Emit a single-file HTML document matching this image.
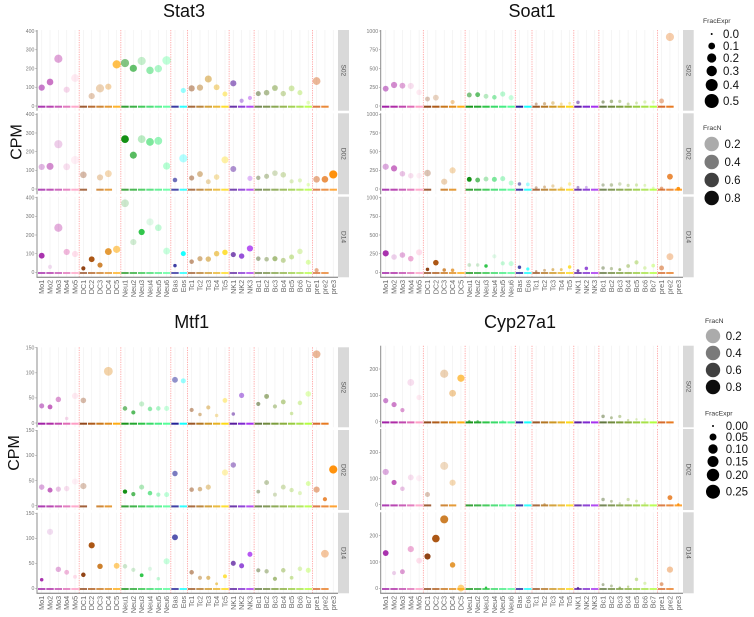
<!DOCTYPE html>
<html lang="en">
<head>
<meta charset="utf-8">
<title>Gene expression dot plots</title>
<style>
html,body{margin:0;padding:0;background:#fff;}
svg{display:block;font-family:"Liberation Sans",sans-serif;filter:blur(0.3px);}
</style>
</head>
<body>
<svg id="chart" xmlns="http://www.w3.org/2000/svg" width="754" height="617" viewBox="0 0 754 617">
  <rect width="754" height="617" fill="#fff"/>
  <text x="184" y="17" font-size="18" text-anchor="middle" fill="#111">Stat3</text>
  <text x="532" y="17" font-size="18" text-anchor="middle" fill="#111">Soat1</text>
  <text x="191.7" y="328" font-size="18" text-anchor="middle" fill="#111">Mtf1</text>
  <text x="520" y="328" font-size="18" text-anchor="middle" fill="#111">Cyp27a1</text>
  <text transform="translate(21.5,142) rotate(-90)" font-size="16" text-anchor="middle" fill="#111">CPM</text>
  <text transform="translate(19,453) rotate(-90)" font-size="16" text-anchor="middle" fill="#111">CPM</text>

  <g font-size="11.5" fill="#111">
    <text x="703" y="23" font-size="6.8" fill="#333">FracExpr</text>
    <circle cx="711.7" cy="34" r="1" fill="#000"/><text x="723" y="38">0.0</text>
    <circle cx="711.7" cy="46" r="3.4" fill="#000"/><text x="723" y="50">0.1</text>
    <circle cx="711.7" cy="58" r="4.6" fill="#000"/><text x="723" y="62">0.2</text>
    <circle cx="711.7" cy="71" r="5.2" fill="#000"/><text x="723" y="75">0.3</text>
    <circle cx="711.7" cy="85" r="6" fill="#000"/><text x="723" y="89">0.4</text>
    <circle cx="711.7" cy="101" r="7" fill="#000"/><text x="723" y="105">0.5</text>
  </g>
  <g font-size="11.5" fill="#111">
    <text x="703" y="130" font-size="6.8" fill="#333">FracN</text>
    <circle cx="711.7" cy="144" r="7.2" fill="#000" fill-opacity=".33"/><text x="724.5" y="148.2">0.2</text>
    <circle cx="711.7" cy="162" r="7.2" fill="#000" fill-opacity=".52"/><text x="724.5" y="166.2">0.4</text>
    <circle cx="711.7" cy="180" r="7.2" fill="#000" fill-opacity=".75"/><text x="724.5" y="184.2">0.6</text>
    <circle cx="711.7" cy="198" r="7.2" fill="#000" fill-opacity=".95"/><text x="724.5" y="202.2">0.8</text>
  </g>
  <g font-size="11.5" fill="#111">
    <text x="705" y="323" font-size="6.8" fill="#333">FracN</text>
    <circle cx="713" cy="336" r="7.2" fill="#000" fill-opacity=".33"/><text x="725.7" y="340.2">0.2</text>
    <circle cx="713" cy="353" r="7.2" fill="#000" fill-opacity=".52"/><text x="725.7" y="357.2">0.4</text>
    <circle cx="713" cy="370" r="7.2" fill="#000" fill-opacity=".75"/><text x="725.7" y="374.2">0.6</text>
    <circle cx="713" cy="387" r="7.2" fill="#000" fill-opacity=".95"/><text x="725.7" y="391.2">0.8</text>
  </g>
  <g font-size="11.5" fill="#111">
    <text x="705" y="415.5" font-size="6.8" fill="#333">FracExpr</text>
    <circle cx="713" cy="426" r="1" fill="#000"/><text x="725.7" y="430">0.00</text>
    <circle cx="713" cy="437" r="3.5" fill="#000"/><text x="725.7" y="441">0.05</text>
    <circle cx="713" cy="449" r="4.7" fill="#000"/><text x="725.7" y="453">0.10</text>
    <circle cx="713" cy="461.5" r="5.5" fill="#000"/><text x="725.7" y="465.5">0.15</text>
    <circle cx="713" cy="475" r="6.2" fill="#000"/><text x="725.7" y="479">0.20</text>
    <circle cx="713" cy="491.7" r="7" fill="#000"/><text x="725.7" y="495.7">0.25</text>
  </g>
</svg>
<script>
const _ = null;
const categories = ['Mo1','Mo2','Mo3','Mo4','Mo5','DC1','DC2','DC3','DC4','DC5','Neu1','Neu2','Neu3','Neu4','Neu5','Neu6','Bas','Eos','Tc1','Tc2','Tc3','Tc4','Tc5','NK1','NK2','NK3','Bc1','Bc2','Bc3','Bc4','Bc5','Bc6','Bc7','pre1','pre2','pre3'];
const groupBoundaries = ['Mo5','DC5','Neu6','Eos','Tc5','NK3','Bc7'];
const conditions = ['S02','D02','D14'];
const missingS02 = ['pre3'];
const missingD02 = ['DC2','DC5'];
const missingD14 = ['pre3'];
const stat3Ticks = [0,100,200,300,400];
const soat1Ticks = [0,250,500,750,1000];
const mtf1Ticks = [0,50,100,150];
const cypTicks = [0,100,200];

/* CPM per cell type, FracExpr (%) and FracN (%) per cell type */
const stat3S02Cpm  = [98,128,252,87,149, _,53,94,103,222, 229,201,240,190,199,243, _, 83, 94,98,144,100,64, 121,28,43, 66,71,96,66,94,71,18, 133,_,_];
const stat3S02Expr = [21,25,42,21,37, _,21,42,21,42, 42,31,42,33,33,47, _, 13, 21,21,29,18,12, 21,7,7, 12,16,18,15,18,12,5, 37,_,_];
const stat3S02N    = [55,60,45,25,20, _,30,30,35,70, 50,65,25,50,40,35, _, 40, 50,45,50,45,45, 55,40,40, 55,50,50,40,40,40,30, 45,_,_];
const stat3D02Cpm  = [118,121,240,119,155, 76,_,62,82,_, 267,181,267,252,258,123, 48, 164, 59,80,39,64,156, 107,_,57, 60,68,85,76,41,46,23, 52,52,78];
const stat3D02Expr = [21,29,42,27,42, 25,_,21,27,_, 37,29,37,37,37,31, 9, 42, 13,18,11,16,29, 19,_,13, 8,12,16,16,7,7,4, 25,25,42];
const stat3D02N    = [30,50,25,20,15, 35,_,30,30,_, 95,70,30,60,50,40, 60, 30, 50,45,35,35,35, 45,_,30, 45,40,30,35,30,30,30, 50,75,95];
const stat3D14Cpm  = [89,29,239,109,98, 21,70,39,111,123, 370,162,216,270,239,114, 36, 100, 57,73,71,100,107, 95,87,128, 73,70,73,64,82,112,54, 11,_,_];
const stat3D14Expr = [18,7,42,21,21, 7,18,13,27,31, 37,21,21,31,25,27, 4, 12, 9,13,15,15,15, 13,15,21, 9,9,13,12,12,15,12, 7,_,_];
const stat3D14N    = [85,15,40,45,30, 95,95,80,80,55, 20,20,90,15,30,30, 80, 90, 55,50,55,60,75, 70,75,75, 50,45,60,45,45,35,40, 50,_,_];

const soat1S02Cpm  = [231,280,271,267,182, 93,111,_,53,_, 147,151,129,116,160,111, _, _, 27,31,40,27,36, 49,_,_, 53,62,62,27,40,53,53, 67,920,_];
const soat1S02Expr = [18,21,18,21,16, 11,18,_,7,_, 11,11,11,9,13,12, _, _, 2,3,4,2,2, 4,_,_, 3,4,3,2,2,3,3, 11,42,_];
const soat1S02N    = [50,50,45,20,20, 30,25,_,40,_, 50,65,30,50,35,30, _, _, 40,45,40,35,35, 50,_,_, 55,50,40,40,35,35,30, 45,35,_];
const soat1D02Cpm  = [298,276,204,178,178, 213,_,98,249,_, 129,120,133,129,138,80, 67, 62, 18,27,40,13,67, 22,22,_, 53,53,67,49,53,49,13, 9,165,4];
const soat1D02Expr = [21,21,16,15,16, 25,_,21,21,_, 11,11,11,12,12,11, 4, 5, 2,2,3,2,4, 2,2,_, 3,4,4,3,3,2,2, 4,18,5];
const soat1D02N    = [35,60,30,20,15, 30,_,30,30,_, 95,65,35,60,40,35, 50, 35, 40,40,35,35,35, 40,30,_, 40,40,30,35,35,30,30, 50,80,90];
const soat1D14Cpm  = [254,205,232,183,268, 40,129,31,27,_, 98,98,85,214,120,116, 67, 45, 13,27,36,36,71, 22,53,_, 58,49,36,85,133,58,89, 58,209,_];
const soat1D14Expr = [21,16,16,16,21, 4,16,4,4,_, 5,4,4,7,7,12, 4, 3, 1,2,2,2,4, 2,4,_, 4,3,2,5,7,4,5, 11,27,_];
const soat1D14N    = [85,20,40,50,30, 95,95,75,70,_, 20,20,90,15,30,30, 75, 70, 50,45,55,60,75, 70,75,_, 45,40,60,45,45,35,40, 55,35,_];

const mtf1S02Cpm  = [34,32,47,9,54, 45,_,_,103,_, 29,21,38,28,29,29, 86, 84, 26,17,31,15,45, 18,55,_, 38,53,33,42,19,40,58, 137,_,_];
const mtf1S02Expr = [12,11,15,4,21, 16,_,_,50,_, 9,7,13,9,9,12, 18, 12, 7,4,7,4,11, 4,13,_, 7,11,7,11,4,9,16, 37,_,_];
const mtf1S02N    = [50,65,50,25,20, 35,_,_,35,_, 55,70,25,50,40,30, 45, 40, 50,45,45,35,40, 50,50,_, 60,60,45,50,40,40,35, 45,_,_];
const mtf1D02Cpm  = [37,31,33,34,48, 39,_,_,_,_, 28,23,37,25,22,22, 64, _, 32,33,37,_,66, 81,_,_, 28,46,22,37,31,25,44, 32,13,72];
const mtf1D02Expr = [15,12,13,15,21, 21,_,_,_,_, 8,7,12,9,7,12, 15, _, 9,9,13,_,21, 15,_,_, 5,11,6,11,8,6,11, 21,7,42];
const mtf1D02N    = [35,65,30,20,15, 30,_,_,_,_, 95,70,35,65,40,35, 55, _, 50,45,40,_,30, 45,_,_, 45,40,30,35,35,30,40, 50,80,95];
const mtf1D14Cpm  = [17,113,38,32,23, 27,86,44,_,45, 44,37,26,39,19,54, 102, _, 32,21,21,9,24, 50,45,68, 36,34,19,36,21,39,36, _,69,_];
const mtf1D14Expr = [4,21,15,11,6, 9,21,15,_,18, 9,7,5,7,4,21, 19, _, 9,7,7,2,6, 12,12,12, 7,8,7,9,5,9,12, _,37,_];
const mtf1D14N    = [85,15,40,45,30, 95,95,85,_,55, 20,20,90,15,30,30, 70, _, 55,45,55,60,70, 70,75,75, 50,45,60,45,45,35,40, _,40,_];

const cypS02Cpm  = [80,65,44,149,92, _,_,182,108,165, 2,2,_,_,1,_, _, _, _,_,_,_,_, _,_,_, 20,15,20,6,9,9,_, _,_,_];
const cypS02Expr = [6.5,6.5,3.5,13.5,7.5, _,_,21,13.5,15.5, 0.5,0.5,_,_,0.5,_, _, _, _,_,_,_,_, _,_,_, 2,1,1.5,0.5,0.5,0.5,_, _,_,_];
const cypS02N    = [50,55,50,20,20, _,_,30,40,65, 50,50,_,_,40,_, _, _, _,_,_,_,_, _,_,_, 50,45,40,35,30,30,_, _,_,_];
const cypD02Cpm  = [125,85,61,104,101, 39,_,148,84,_, _,_,_,_,_,_, _, _, _,2,_,_,_, _,_,_, 20,13,5,20,14,5,_, _,27,1];
const cypD02Expr = [10.5,6.5,4.5,9,10.5, 6,_,20,10.5,_, _,_,_,_,_,_, _, _, _,0.5,_,_,_, _,_,_, 2,1,0.5,1.5,1,0.5,_, _,5.5,0.5];
const cypD02N    = [35,70,30,20,15, 30,_,25,30,_, _,_,_,_,_,_, _, _, _,40,_,_,_, _,_,_, 45,40,30,35,35,30,_, _,80,90];
const cypD14Cpm  = [134,58,63,149,105, 121,189,262,89,1, _,_,2,_,_,_, _, _, _,_,_,_,_, 1,_,_, 14,9,2,6,34,19,_, 16,71,_];
const cypD14Expr = [9,3.5,5.5,10.5,9, 10.5,17.5,20,7.5,13.5, _,_,0.5,_,_,_, _, _, _,_,_,_,_, 0.5,_,_, 1,1,0.5,0.5,2,1.5,_, 2.5,10.5,_];
const cypD14N    = [85,20,50,50,30, 95,95,85,80,50, _,_,90,_,_,_, _, _, _,_,_,_,_, 70,_,_, 45,40,60,45,45,35,_, 55,40,_];

const categoryColors = ['#9a0fa0','#a81aa0','#bb38a8','#dd5fb0','#ff96c0','#8b3a0a','#a84e08','#c46a08','#de8208','#ffa500','#078a07','#12a01e','#1cc038','#28d85c','#35ec78','#45ff90','#10108f','#00ffff','#934a14','#ad6a10','#c98c10','#e6ab10','#ffd700','#4b0a96','#7418cc','#a020f0','#556b2f','#64802e','#72962e','#80a82e','#90c830','#a0e038','#adff2f','#d2601a','#e6700f','#ff8c00'];

const svg = document.getElementById('chart');
const NS = 'http://www.w3.org/2000/svg';
function mk(tag, attrs, parent, text) {
  const el = document.createElementNS(NS, tag);
  for (const k in attrs) el.setAttribute(k, attrs[k]);
  if (text !== undefined) el.textContent = text;
  parent.appendChild(el);
  return el;
}
function slug(s) { return s.toLowerCase(); }

const panels = [
  { gene:'Stat3', ticks:stat3Ticks, tickMax:400, fMax:50, axisX:37, firstX:41.7, step:8.33, stripX:338, stripW:11,
    rows:[
      { top:30, bottom:110.7, zero:106, span:75, cpm:stat3S02Cpm, expr:stat3S02Expr, n:stat3S02N, missing:missingS02, barAlpha:.82 },
      { top:113.3, bottom:194.3, zero:189, span:74.7, cpm:stat3D02Cpm, expr:stat3D02Expr, n:stat3D02N, missing:missingD02, barAlpha:.75 },
      { top:196.7, bottom:277.3, zero:272.3, span:74.6, cpm:stat3D14Cpm, expr:stat3D14Expr, n:stat3D14N, missing:missingD14, barAlpha:.68 } ] },
  { gene:'Soat1', ticks:soat1Ticks, tickMax:1000, fMax:50, axisX:380.7, firstX:385.7, step:8.36, stripX:683, stripW:10.7,
    rows:[
      { top:30, bottom:110.7, zero:106, span:75, cpm:soat1S02Cpm, expr:soat1S02Expr, n:soat1S02N, missing:missingS02, barAlpha:.92 },
      { top:113.3, bottom:194.3, zero:189, span:74.7, cpm:soat1D02Cpm, expr:soat1D02Expr, n:soat1D02N, missing:missingD02, barAlpha:.8 },
      { top:196.7, bottom:277.3, zero:272.3, span:74.6, cpm:soat1D14Cpm, expr:soat1D14Expr, n:soat1D14N, missing:missingD14, barAlpha:.72 } ] },
  { gene:'Mtf1', ticks:mtf1Ticks, tickMax:150, fMax:50, axisX:37, firstX:41.7, step:8.33, stripX:338, stripW:11,
    rows:[
      { top:347.3, bottom:427.3, zero:423, span:75.3, cpm:mtf1S02Cpm, expr:mtf1S02Expr, n:mtf1S02N, missing:missingS02, barAlpha:.92 },
      { top:430, bottom:510, zero:505.7, span:75.4, cpm:mtf1D02Cpm, expr:mtf1D02Expr, n:mtf1D02N, missing:missingD02, barAlpha:.8 },
      { top:512.7, bottom:593.3, zero:588.3, span:75, cpm:mtf1D14Cpm, expr:mtf1D14Expr, n:mtf1D14N, missing:missingD14, barAlpha:.72 } ] },
  { gene:'Cyp27a1', ticks:cypTicks, tickMax:200, fMax:25, axisX:380.7, firstX:385.7, step:8.36, stripX:683, stripW:10.7,
    rows:[
      { top:345.7, bottom:427.3, zero:421.7, span:52.7, cpm:cypS02Cpm, expr:cypS02Expr, n:cypS02N, missing:missingS02, barAlpha:.92 },
      { top:429, bottom:510, zero:504.7, span:52.4, cpm:cypD02Cpm, expr:cypD02Expr, n:cypD02N, missing:missingD02, barAlpha:.8 },
      { top:512.3, bottom:593.3, zero:588.3, span:52.6, cpm:cypD14Cpm, expr:cypD14Expr, n:cypD14N, missing:missingD14, barAlpha:.72 } ] }
];

panels.forEach(function (p) {
  const gene = slug(p.gene);
  const xScale = function (i) { return p.firstX + i * p.step; };
  const rScale = function (f) { return 0.7 + 3.7 * Math.sqrt(f / p.fMax); };
  const rightX = p.stripX - 1;
  const panelGroup = mk('g', {}, svg);
  
  

  p.rows.forEach(function (row, r) {
    const cond = conditions[r];
    const yScale = function (v) { return row.zero - v * row.span / p.tickMax; };
    const g = mk('g', {}, panelGroup);
    
    

    categories.forEach(function (c, i) {
      const grid = mk('line', { x1:xScale(i), x2:xScale(i), y1:row.top, y2:row.bottom, stroke:'#f1f1f1', 'stroke-width':.7 }, g);
      
      
    });
    groupBoundaries.forEach(function (name) {
      const bx = xScale(categories.indexOf(name) + 0.5);
      const sep = mk('line', { x1:bx, x2:bx, y1:row.top, y2:row.bottom, stroke:'#ff9a9a', 'stroke-width':.8, 'stroke-dasharray':'1.3 1.1' }, g);
      
      
    });

    const axis = mk('line', { x1:p.axisX, x2:p.axisX, y1:row.top, y2:row.bottom, stroke:'#8c8c8c', 'stroke-width':1 }, g);
    
    
    p.ticks.forEach(function (t) {
      const tk = mk('line', { x1:p.axisX - 1.8, x2:p.axisX, y1:yScale(t), y2:yScale(t), stroke:'#999', 'stroke-width':.6 }, g);
      
      
      const tl = mk('text', { x:p.axisX - 2.6, y:yScale(t) + 1.8, 'font-size':5.2, 'text-anchor':'end', fill:'#777' }, g, String(t));
      
      
    });

    const strip = mk('rect', { x:p.stripX, y:row.top, width:p.stripW, height:row.bottom - row.top, fill:'#d9d9d9' }, g);
    
    
    const sx = p.stripX + p.stripW / 2 - 2;
    const sy = (row.top + row.bottom) / 2;
    const st = mk('text', { transform:'translate(' + sx + ',' + sy + ') rotate(90)', 'font-size':6.6, 'text-anchor':'middle', fill:'#555' }, g, cond);
    
    

    categories.forEach(function (c, i) {
      if (row.missing.indexOf(c) >= 0) return;
      const bar = mk('rect', { x:xScale(i) - 3.7, y:row.zero - 0.3, width:7.4, height:2, fill:categoryColors[i], 'fill-opacity':row.barAlpha }, g);
      
      
    });
    categories.forEach(function (c, i) {
      if (row.cpm[i] === null) return;
      const dot = mk('circle', { cx:xScale(i), cy:yScale(row.cpm[i]), r:rScale(row.expr[i]), fill:categoryColors[i], 'fill-opacity':row.n[i] / 100 }, g);
      
      
    });
  });

  const last = p.rows[p.rows.length - 1];
  const xAxis = mk('line', { x1:p.axisX - .5, x2:rightX + 1, y1:last.bottom, y2:last.bottom, stroke:'#777', 'stroke-width':1 }, panelGroup);
  
  
  categories.forEach(function (c, i) {
    const lx = xScale(i) + 2.5;
    const ly = last.bottom + 2.6;
    const lab = mk('text', { transform:'translate(' + lx + ',' + ly + ') rotate(-90)', 'font-size':7.2, 'text-anchor':'end', fill:'#666' }, panelGroup, c);
    
    
  });
});
</script>
</body>
</html>
